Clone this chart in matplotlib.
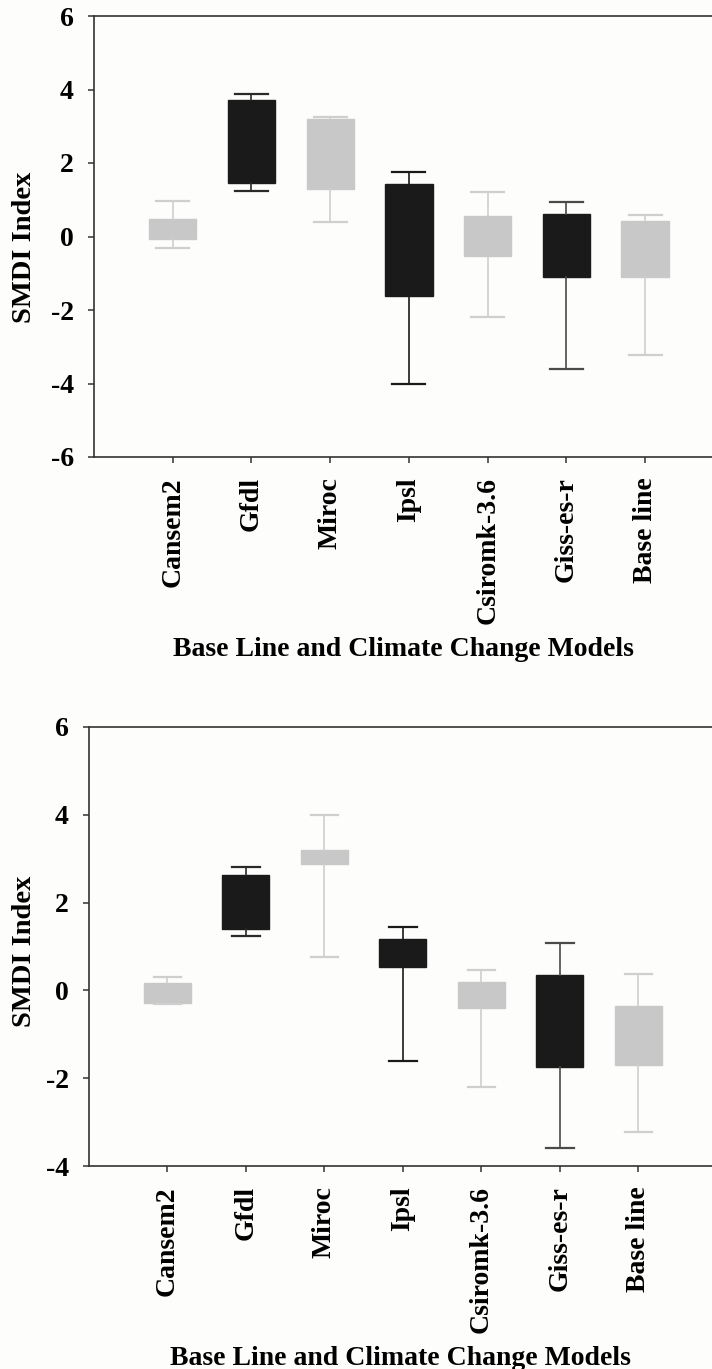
import matplotlib
matplotlib.use("Agg")
import matplotlib.pyplot as plt

plt.rcParams['font.family'] = ['Liberation Serif', 'DejaVu Serif']
plt.rcParams['font.weight'] = 'bold'
plt.rcParams['axes.unicode_minus'] = False

models = ['Cansem2', 'Gfdl', 'Miroc', 'Ipsl', 'Csiromk-3.6', 'Giss-es-r', 'Base line']
box_colors = ['#c8c8c8', '#1a1a1a', '#c8c8c8', '#1a1a1a', '#c8c8c8', '#1a1a1a', '#c8c8c8']
whisk_colors = ['#cfcfcf', '#2a2a2a', '#cfcfcf', '#1a1a1a', '#cfcfcf', '#4a4a4a', '#cfcfcf']

# top panel: whisker low, q1, q3, whisker high
top_lo = [-0.31, 1.25, 0.40, -4.01, -2.19, -3.60, -3.23]
top_q1 = [-0.06, 1.45, 1.29, -1.62, -0.52, -1.09, -1.11]
top_q3 = [0.48, 3.72, 3.20, 1.44, 0.57, 0.60, 0.42]
top_hi = [0.97, 3.89, 3.24, 1.75, 1.22, 0.95, 0.58]

# bottom panel
bot_lo = [-0.32, 1.25, 0.76, -1.60, -2.20, -3.58, -3.22]
bot_q1 = [-0.28, 1.41, 2.87, 0.53, -0.39, -1.75, -1.71]
bot_q3 = [0.16, 2.64, 3.19, 1.18, 0.18, 0.34, -0.35]
bot_hi = [0.30, 2.81, 4.00, 1.44, 0.47, 1.09, 0.38]

bg = '#fdfdfb'
fig = plt.figure(figsize=(7.12, 13.69), dpi=100, facecolor=bg)


def panel(rect, lo, q1, q3, hi, ylim, xmax, capw, ylab_x, ylab_y):
    ax = fig.add_axes(rect, facecolor=bg)
    for i in range(len(models)):
        st = [dict(whislo=lo[i], q1=q1[i], med=q1[i], q3=q3[i], whishi=hi[i], fliers=[])]
        ax.bxp(st, positions=[i + 1], widths=0.6, capwidths=capw, patch_artist=True,
               showfliers=False, manage_ticks=False,
               boxprops=dict(facecolor=box_colors[i], edgecolor=box_colors[i], linewidth=1),
               whiskerprops=dict(color=whisk_colors[i], linewidth=1.2),
               capprops=dict(color=whisk_colors[i], linewidth=1.6),
               medianprops=dict(linewidth=0))
    ax.set_xlim(0, xmax)
    ax.set_ylim(*ylim)
    ax.set_yticks(range(ylim[0], ylim[1] + 1, 2))
    ax.set_xticks(range(1, len(models) + 1))
    ax.set_xticklabels(models, rotation=90)
    ax.tick_params(direction='out', length=4.5, width=1.1, labelsize=20, pad=10, color='#333333')
    ax.spines['right'].set_visible(False)
    for s in ['top', 'left', 'bottom']:
        ax.spines[s].set_linewidth(1.2)
        ax.spines[s].set_color('#333333')
    ax.set_ylabel('SMDI Index', fontsize=20.5, fontweight='bold')
    ax.yaxis.set_label_coords(ylab_x, ylab_y)
    ax.set_xlabel('Base Line and Climate Change Models', fontsize=20, fontweight='bold', labelpad=9)
    return ax


panel([94 / 712, 1 - 457 / 1369, 1 - 94 / 712, 441 / 1369], top_lo, top_q1, top_q3, top_hi,
      (-6, 6), 7.85, 0.42, -(94 - 37) / 618, 0.475)
panel([89 / 712, 1 - 1166 / 1369, 1 - 89 / 712, 439 / 1369], bot_lo, bot_q1, bot_q3, bot_hi,
      (-4, 6), 7.94, 0.35, -(89 - 37) / 623, 0.49)

fig.savefig('out.png', dpi=100, facecolor=bg)
